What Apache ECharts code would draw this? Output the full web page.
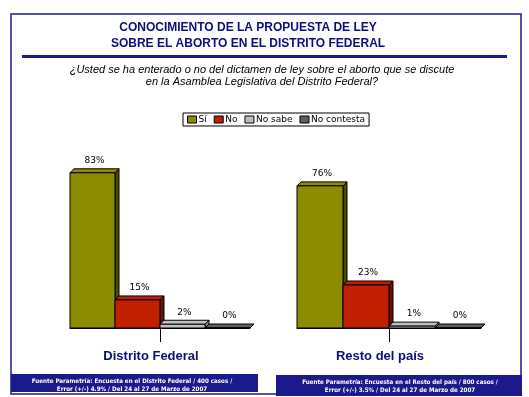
<!DOCTYPE html>
<html>
<head>
<meta charset="utf-8">
<script src="https://cdn.jsdelivr.net/npm/echarts@6/dist/echarts.min.js"></script>
<style>
  html, body { margin: 0; padding: 0; background: #fff; }
  #main { width: 529px; height: 397px; }
</style>
</head>
<body>
<div id="main"></div>
<script>
var answers = ['Sí', 'No', 'No sabe', 'No contesta'];
var regions = ['Distrito Federal', 'Resto del país'];
var valuesDF = [83, 15, 2, 0];
var valuesResto = [76, 23, 1, 0];

var frontColors = ['#8c8c00', '#c02000', '#c0c0c0', '#606060'];
var sideColors = ['#4c4c00', '#701000', '#8a8a8a', '#3a3a3a'];
var navy = '#1a1a8c';

var chart = echarts.init(document.getElementById('main'));

function make3dBar(idx) {
  return function (params, api) {
    var val = api.value(1);
    var bandW = api.size([1, 0])[0];
    var w = bandW / 4;
    var base = api.coord([api.value(0), 0]);
    var top = api.coord([api.value(0), val]);
    var x0 = base[0] - bandW / 2 + idx * w;
    var by = base[1], ty = top[1], d = 4;
    var st = { stroke: '#000', lineWidth: 1 };
    return {
      type: 'group',
      children: [
        { type: 'polygon', shape: { points: [[x0 + w, ty], [x0 + w + d, ty - d], [x0 + w + d, by - d], [x0 + w, by]] },
          style: Object.assign({ fill: sideColors[idx] }, st) },
        { type: 'polygon', shape: { points: [[x0, ty], [x0 + d, ty - d], [x0 + w + d, ty - d], [x0 + w, ty]] },
          style: Object.assign({ fill: frontColors[idx] }, st) },
        { type: 'rect', shape: { x: x0, y: ty, width: w, height: by - ty },
          style: Object.assign({ fill: frontColors[idx] }, st) },
        { type: 'text', x: x0 + w / 2 + 2, y: ty - 12,
          style: { text: val + '%', fill: '#000', font: '9px "DejaVu Sans"', align: 'center', verticalAlign: 'middle' } }
      ]
    };
  };
}

var series = [];
[valuesDF, valuesResto].forEach(function (vals, g) {
  answers.forEach(function (name, i) {
    series.push({
      type: 'custom',
      name: name,
      xAxisIndex: g,
      yAxisIndex: g,
      itemStyle: { color: frontColors[i], borderColor: '#000', borderWidth: 1 },
      renderItem: make3dBar(i),
      data: [[regions[g], vals[i]]]
    });
  });
});

function xAxisFor(g) {
  return {
    type: 'category',
    gridIndex: g,
    data: [regions[g]],
    axisLine: { lineStyle: { color: '#000', width: 1 } },
    axisTick: { show: true, interval: 0, alignWithLabel: true, length: 14, lineStyle: { color: '#000' } },
    axisLabel: { color: '#0c0c80', fontWeight: 'bold', fontSize: 13, fontFamily: 'Liberation Sans', margin: 22, padding: [0, 18, 0, 0] }
  };
}
function yAxisFor(g) {
  return { type: 'value', gridIndex: g, min: 0, max: 100, show: false };
}

var footStyle = { color: '#fff', fontSize: 6.2, fontWeight: 'bold', fontFamily: '"DejaVu Sans Condensed", "Liberation Sans"', lineHeight: 8 };

chart.setOption({
  animation: false,
  title: [
    { text: 'CONOCIMIENTO DE LA PROPUESTA DE LEY\nSOBRE EL ABORTO EN EL DISTRITO FEDERAL', left: 248, top: 20, padding: 0, textAlign: 'center',
      textStyle: { color: '#0c0c80', fontSize: 12, fontWeight: 'bold', fontFamily: 'Liberation Sans', lineHeight: 16 } },
    { text: '¿Usted se ha enterado o no del dictamen de ley sobre el aborto que se discute\nen la Asamblea Legislativa del Distrito Federal?', left: 262, top: 64, padding: 0, textAlign: 'center',
      textStyle: { color: '#000', fontSize: 11, fontStyle: 'italic', fontWeight: 'normal', fontFamily: 'Liberation Sans', lineHeight: 12 } },
    { text: 'Fuente Parametría: Encuesta en el Distrito Federal / 400 casos /\nError (+/-) 4.9% / Del 24 al 27 de Marzo de 2007', left: 132, top: 377, padding: 0, textAlign: 'center',
      textStyle: footStyle },
    { text: 'Fuente Parametría: Encuesta en el Resto del país / 800 casos /\nError (+/-) 3.5% / Del 24 al 27 de Marzo de 2007', left: 400, top: 378, padding: 0, textAlign: 'center',
      textStyle: footStyle }
  ],
  legend: {
    data: answers,
    left: 183, top: 113,
    orient: 'horizontal',
    borderColor: '#000', borderWidth: 1, borderRadius: 0,
    padding: [2, 4],
    itemWidth: 9, itemHeight: 7, itemGap: 7,
    icon: 'rect',
    itemStyle: { borderColor: '#000', borderWidth: 1 },
    textStyle: { fontSize: 9, fontFamily: 'DejaVu Sans', color: '#000', padding: [0, 0, 0, -3] }
  },
  graphic: [
    { type: 'rect', z: -1, shape: { x: 11, y: 14, width: 510, height: 380 }, style: { fill: '#fff', stroke: navy, lineWidth: 1.5 } },
    { type: 'rect', shape: { x: 22, y: 55, width: 485, height: 3 }, style: { fill: navy } },
    { type: 'rect', z: 1, shape: { x: 11, y: 374, width: 247, height: 18 }, style: { fill: navy } },
    { type: 'rect', z: 1, shape: { x: 276, y: 375, width: 246, height: 21 }, style: { fill: navy } }
  ],
  grid: [
    { left: 70, top: 141, width: 180, height: 187 },
    { left: 297, top: 141, width: 184, height: 187 }
  ],
  xAxis: [xAxisFor(0), xAxisFor(1)],
  yAxis: [yAxisFor(0), yAxisFor(1)],
  series: series
});
</script>
</body>
</html>
